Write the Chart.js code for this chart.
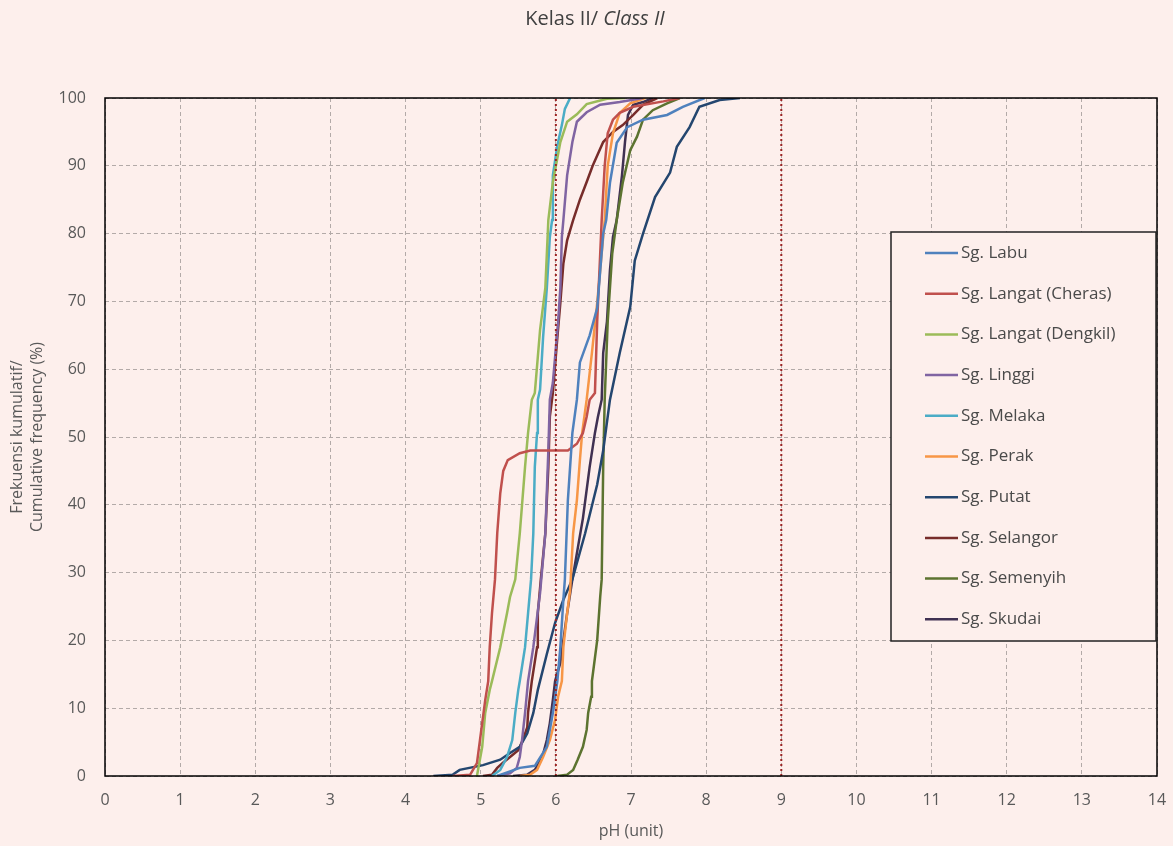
<!DOCTYPE html>
<html>
<head>
<meta charset="utf-8">
<script src="https://cdn.jsdelivr.net/npm/chart.js@4"></script>
<style>
  html, body { margin: 0; padding: 0; background: #fdefec; }
  #wrap { width: 1173px; height: 846px; position: relative; }
</style>
</head>
<body>
<div id="wrap"><canvas id="ph-chart" width="1173" height="846"></canvas></div>
<script>
// river names (legend order)
var rivers = ["Sg. Labu", "Sg. Langat (Cheras)", "Sg. Langat (Dengkil)", "Sg. Linggi", "Sg. Melaka",
              "Sg. Perak", "Sg. Putat", "Sg. Selangor", "Sg. Semenyih", "Sg. Skudai"];
var riverColors = ["#4f81bd", "#c0504d", "#9bbb59", "#8064a2", "#4bacc6",
                   "#f79646", "#24466f", "#772c2a", "#5c7330", "#403152"];

// pH values and cumulative frequency (%)
var phLabu   = [5.22, 5.52, 5.72, 5.88, 5.96, 6.02, 6.06, 6.10, 6.12, 6.16, 6.22, 6.28, 6.32, 6.45, 6.55, 6.63, 6.67, 6.72, 6.81, 6.95, 7.16, 7.48, 7.69, 7.98];
var cumLabu  = [0, 1.2, 1.5, 4.3, 9.3, 14, 19, 26, 29, 40.7, 50.6, 55.5, 61, 65, 69, 80, 82, 87.5, 93.4, 95.7, 96.8, 97.5, 98.7, 100];

var phCheras  = [4.63, 4.86, 4.95, 4.99, 5.06, 5.10, 5.12, 5.15, 5.19, 5.22, 5.26, 5.30, 5.36, 5.52, 5.66, 6.16, 6.28, 6.36, 6.41, 6.45, 6.52, 6.55, 6.59, 6.61, 6.65, 6.69, 6.76, 6.85, 7.03, 7.43, 7.65];
var cumCheras = [0, 0.2, 1.9, 5.3, 11.2, 14, 19, 24, 29, 35.8, 41.7, 45, 46.6, 47.6, 48, 48, 49, 50.6, 53, 55.5, 56.5, 67, 77, 82, 90, 94.8, 96.8, 97.8, 98.7, 99.5, 100];

var phDengkil  = [4.95, 5.02, 5.06, 5.12, 5.15, 5.26, 5.35, 5.39, 5.46, 5.52, 5.55, 5.59, 5.63, 5.68, 5.72, 5.79, 5.86, 5.90, 5.96, 6.06, 6.15, 6.28, 6.41, 6.68, 6.92];
var cumDengkil = [0, 4.3, 9.3, 12.7, 14, 19, 24, 26.4, 29, 35.8, 40, 45.6, 50.6, 55.5, 56.5, 65.8, 72, 82, 87.6, 93.5, 96.5, 97.6, 99.1, 99.9, 100];

var phLinggi  = [5.22, 5.39, 5.48, 5.52, 5.55, 5.59, 5.63, 5.70, 5.79, 5.86, 5.90, 5.92, 5.96, 6.03, 6.06, 6.08, 6.10, 6.15, 6.22, 6.28, 6.41, 6.59, 6.85, 7.16];
var cumLinggi = [0, 0.4, 1.2, 2.8, 5.3, 9.3, 14, 19, 27, 35.8, 48, 55.5, 58, 67, 72, 79.5, 82, 88.6, 93.5, 96.5, 97.9, 99, 99.4, 100];

var phMelaka  = [5.15, 5.26, 5.35, 5.42, 5.46, 5.50, 5.52, 5.59, 5.63, 5.67, 5.70, 5.72, 5.75, 5.76, 5.79, 5.83, 5.88, 5.92, 5.95, 5.96, 6.02, 6.08, 6.12, 6.19];
var cumMelaka = [0, 0.9, 2.8, 5.3, 9.3, 12.7, 14, 19, 24, 29, 35.8, 45.6, 50.6, 55.5, 57, 64.7, 72, 79.5, 82, 88.6, 93, 96, 98.4, 100];

var phPerak  = [5.52, 5.66, 5.75, 5.83, 5.92, 5.99, 6.03, 6.08, 6.10, 6.15, 6.19, 6.23, 6.28, 6.32, 6.35, 6.41, 6.48, 6.55, 6.59, 6.63, 6.65, 6.69, 6.76, 6.85, 6.99, 7.19];
var cumPerak = [0, 0.2, 0.9, 2.8, 5.3, 8.3, 11.7, 14, 19, 24, 27.4, 35.8, 40.7, 46.6, 50.6, 55.5, 62.4, 69.8, 74.6, 79.5, 82, 90, 94.8, 97.8, 99.2, 100];

var phPutat  = [4.37, 4.63, 4.72, 5.03, 5.26, 5.39, 5.52, 5.62, 5.70, 5.76, 5.88, 5.99, 6.10, 6.22, 6.39, 6.55, 6.63, 6.72, 6.85, 6.99, 7.05, 7.16, 7.32, 7.52, 7.61, 7.78, 7.91, 8.18, 8.45];
var cumPutat = [0, 0.2, 0.9, 1.6, 2.4, 3.4, 4.3, 6.3, 9.3, 12.7, 18, 22.6, 26, 29, 35.8, 43, 48, 55.5, 62.4, 69.2, 76, 80, 85.4, 89, 92.8, 95.7, 98.7, 99.7, 100];

var phSelangor  = [5.03, 5.15, 5.22, 5.30, 5.39, 5.50, 5.56, 5.62, 5.63, 5.66, 5.68, 5.75, 5.76, 5.80, 5.86, 5.90, 5.92, 5.96, 6.02, 6.06, 6.10, 6.15, 6.23, 6.32, 6.41, 6.49, 6.63, 6.76, 6.89, 7.03, 7.16, 7.35];
var cumSelangor = [0, 0.2, 1.2, 2, 2.8, 3.8, 5.3, 7.2, 9.3, 12.2, 14, 19, 24, 29, 35.8, 45.6, 53, 56.5, 64.7, 69.8, 75.6, 79, 82, 85, 87.6, 90, 93.5, 95, 96, 97.5, 99, 100];

var phSemenyih  = [6.02, 6.15, 6.23, 6.29, 6.36, 6.41, 6.43, 6.47, 6.48, 6.55, 6.59, 6.61, 6.63, 6.65, 6.69, 6.75, 6.81, 6.89, 6.99, 7.08, 7.16, 7.29, 7.48, 7.65];
var cumSemenyih = [0, 0.2, 0.9, 2.4, 4.3, 6.8, 9.3, 11.7, 14, 20, 26.4, 29, 45.6, 55.5, 67, 77, 82, 87.5, 92.3, 94.3, 96.8, 98.2, 99.2, 100];

var phSkudai  = [5.43, 5.62, 5.72, 5.82, 5.88, 5.92, 5.96, 5.99, 6.06, 6.10, 6.15, 6.22, 6.36, 6.45, 6.52, 6.56, 6.61, 6.63, 6.68, 6.72, 6.76, 6.81, 6.88, 6.92, 6.96, 7.03, 7.16, 7.29];
var cumSkudai = [0, 0.2, 0.9, 2.8, 5.3, 7.8, 11.2, 14, 16.7, 20, 24, 29, 38, 45.6, 50.6, 53, 55.5, 62.4, 67, 74.6, 79.5, 82, 88.6, 93.5, 97.5, 99, 99.4, 100];

// class II limits (pH)
var limitPh = [6, 9];
var limitY = [0, 100];

var xTicks = [0, 14, 1];   // min, max, step
var yTicks = [0, 100, 10];

var phSets  = [phLabu, phCheras, phDengkil, phLinggi, phMelaka, phPerak, phPutat, phSelangor, phSemenyih, phSkudai];
var cumSets = [cumLabu, cumCheras, cumDengkil, cumLinggi, cumMelaka, cumPerak, cumPutat, cumSelangor, cumSemenyih, cumSkudai];

function toPoints(xs, ys){
  return xs.map(function(x, i){ return {x: x, y: ys[i]}; });
}

var datasets = [];
limitPh.forEach(function(p){
  datasets.push({
    label: "limit",
    data: toPoints([p, p], limitY),
    borderColor: "#9b2222",
    borderWidth: 2,
    borderDash: [2, 3],
    pointRadius: 0,
    isLimit: true
  });
});
rivers.forEach(function(name, i){
  datasets.push({
    label: name,
    data: toPoints(phSets[i], cumSets[i]),
    borderColor: riverColors[i],
    backgroundColor: riverColors[i],
    borderWidth: 2.5,
    pointRadius: 0,
    tension: 0
  });
});

var FONT = "'Open Sans', 'Noto Sans', sans-serif";
var TXT = "#595959";

var extras = {
  id: "extras",
  beforeDraw: function(chart){
    var ctx = chart.ctx;
    ctx.save();
    ctx.fillStyle = "#fdefec";
    ctx.fillRect(0, 0, chart.width, chart.height);
    ctx.restore();
  },
  afterDraw: function(chart){
    var ctx = chart.ctx, a = chart.chartArea;
    ctx.save();
    // plot border
    ctx.strokeStyle = "#000";
    ctx.lineWidth = 1.5;
    ctx.strokeRect(a.left, a.top, a.right - a.left, a.bottom - a.top);

    // title with italic part
    var t1 = "Kelas II/ ", t2 = "Class II";
    ctx.fillStyle = "#404040";
    ctx.textBaseline = "middle";
    ctx.font = "20px " + FONT;
    var w1 = ctx.measureText(t1).width;
    ctx.font = "italic 20px " + FONT;
    var w2 = ctx.measureText(t2).width;
    var sx = 595 - (w1 + w2) / 2;
    ctx.textAlign = "left";
    ctx.font = "20px " + FONT;
    ctx.fillText(t1, sx, 19);
    ctx.font = "italic 20px " + FONT;
    ctx.fillText(t2, sx + w1, 19);

    // axis titles
    ctx.fillStyle = TXT;
    ctx.font = "16px " + FONT;
    ctx.textAlign = "center";
    ctx.fillText("pH (unit)", (a.left + a.right) / 2, 831);
    ctx.save();
    ctx.translate(17, (a.top + a.bottom) / 2);
    ctx.rotate(-Math.PI / 2);
    ctx.fillText("Frekuensi kumulatif/", 0, 0);
    ctx.fillText("Cumulative frequency (%)", 0, 20);
    ctx.restore();

    // legend box
    var lx = 891, ly = 232, lw = 265, lh = 409;
    ctx.fillStyle = "#fdefec";
    ctx.fillRect(lx, ly, lw, lh);
    ctx.strokeStyle = "#222";
    ctx.lineWidth = 1.5;
    ctx.strokeRect(lx, ly, lw, lh);
    ctx.font = "17px " + FONT;
    ctx.textAlign = "left";
    rivers.forEach(function(name, i){
      var y = 253 + i * 40.7;
      ctx.strokeStyle = riverColors[i];
      ctx.lineWidth = 2.5;
      ctx.beginPath();
      ctx.moveTo(925, y);
      ctx.lineTo(958, y);
      ctx.stroke();
      ctx.fillStyle = "#4a4a4a";
      ctx.fillText(name, 961, y);
    });
    ctx.restore();
  }
};

new Chart(document.getElementById("ph-chart"), {
  type: "line",
  data: { datasets: datasets },
  plugins: [extras],
  options: {
    responsive: false,
    animation: false,
    layout: { padding: { top: 98, right: 16, left: 0, bottom: 0 } },
    plugins: {
      legend: { display: false },
      title: { display: false },
      tooltip: { enabled: false }
    },
    scales: {
      x: {
        type: "linear",
        min: xTicks[0], max: xTicks[1],
        ticks: { stepSize: xTicks[2], color: TXT, font: { size: 16, family: FONT }, padding: 15 },
        grid: { color: "#b3aaa8", lineWidth: 1, drawTicks: false },
        border: { display: false, dash: [4, 3] },
        afterFit: function(s){ s.height = 70; s.paddingLeft = 0; s.paddingRight = 0; }
      },
      y: {
        min: yTicks[0], max: yTicks[1],
        ticks: { stepSize: yTicks[2], color: TXT, font: { size: 16, family: FONT }, padding: 19 },
        grid: { color: "#b3aaa8", lineWidth: 1, drawTicks: false },
        border: { display: false, dash: [4, 3] },
        afterFit: function(s){ s.width = 105; s.paddingTop = 0; s.paddingBottom = 0; }
      }
    }
  }
});
</script>
</body>
</html>
